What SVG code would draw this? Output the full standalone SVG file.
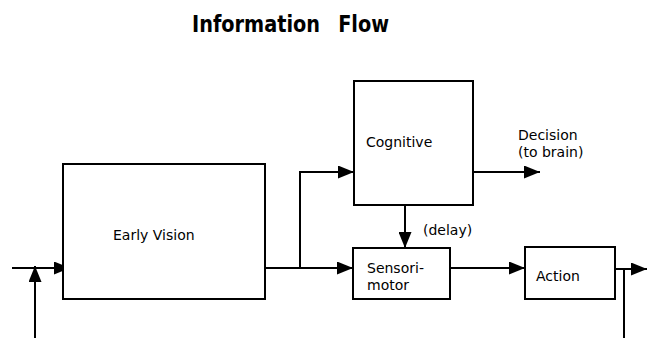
<svg xmlns="http://www.w3.org/2000/svg" width="653" height="338" viewBox="0 0 653 338">
<style>
.box{fill:#fff;stroke:#000;stroke-width:2}
.ln{fill:none;stroke:#000;stroke-width:2}
.t{font-family:"DejaVu Sans",Verdana,sans-serif;font-size:14px;fill:#000}
.title{font-family:"DejaVu Sans",Verdana,sans-serif;font-size:23px;font-weight:bold;fill:#000}
</style>
<defs>
<marker id="ah" markerWidth="16" markerHeight="13" viewBox="0 0 16 13" refX="16" refY="6.5" orient="auto" markerUnits="userSpaceOnUse">
<path d="M0,0 L16,6.5 L0,13 Z" fill="#000"/>
</marker>
</defs>
<text class="title" transform="translate(192,32) scale(0.84,1)"><tspan x="0" y="0">Information</tspan><tspan x="174" y="0">Flow</tspan></text>
<g id="connectors">
<line class="ln" x1="12" y1="268" x2="70" y2="268" marker-end="url(#ah)"/>
<line class="ln" x1="35" y1="338" x2="35" y2="266" marker-end="url(#ah)"/>
<line class="ln" x1="265" y1="268" x2="353" y2="268" marker-end="url(#ah)"/>
<polyline class="ln" points="300,268 300,172 354,172" marker-end="url(#ah)"/>
<line class="ln" x1="473" y1="172" x2="540" y2="172" marker-end="url(#ah)"/>
<line class="ln" x1="405" y1="205" x2="405" y2="248" marker-end="url(#ah)"/>
<line class="ln" x1="450" y1="268" x2="525" y2="268" marker-end="url(#ah)"/>
<line class="ln" x1="615" y1="269" x2="647" y2="269" marker-end="url(#ah)"/>
<line class="ln" x1="624" y1="269" x2="624" y2="338"/>
</g>
<g id="early-vision">
<rect class="box" x="63" y="164" width="202" height="135"/>
<text class="t" x="113" y="240">Early Vision</text>
</g>
<g id="cognitive">
<rect class="box" x="354" y="81" width="119" height="124"/>
<text class="t" x="366" y="147">Cognitive</text>
</g>
<g id="sensorimotor">
<rect class="box" x="353" y="248" width="97" height="51"/>
<text class="t" x="367" y="273">Sensori-</text>
<text class="t" x="367" y="290">motor</text>
</g>
<g id="action">
<rect class="box" x="525" y="247" width="90" height="52"/>
<text class="t" x="536" y="281">Action</text>
</g>
<g id="labels">
<text class="t" x="518" y="140">Decision</text>
<text class="t" x="518" y="157">(to brain)</text>
<text class="t" x="423" y="235">(delay)</text>
</g>
</svg>
